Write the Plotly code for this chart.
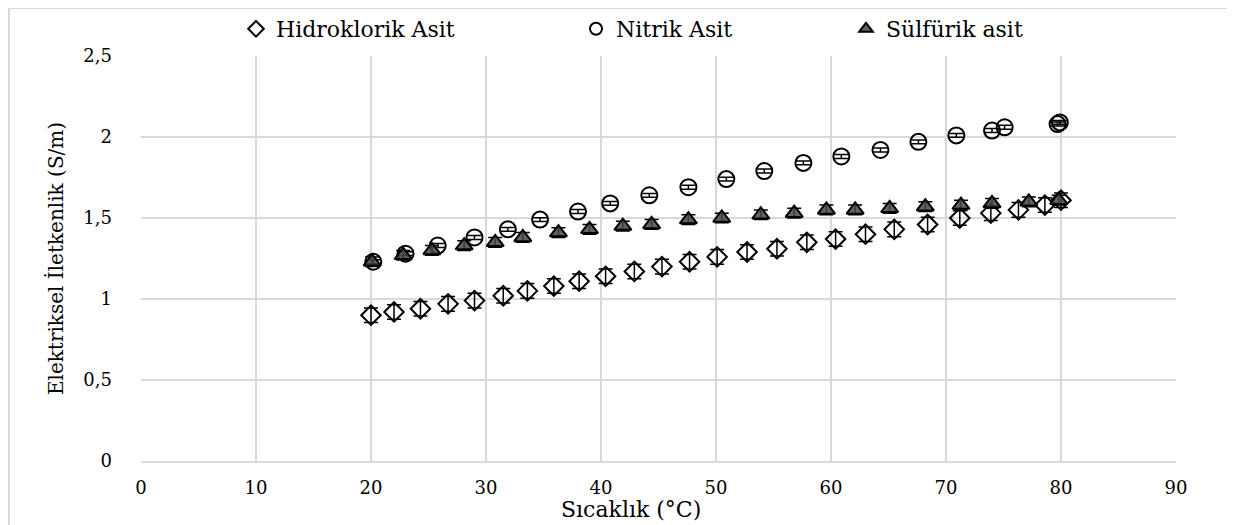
import plotly.graph_objects as go

# ---- data ----
hcl_x = [20.0, 22.0, 24.3, 26.7, 29.0, 31.5, 33.6, 35.9, 38.1, 40.4, 42.9, 45.3, 47.7,
         50.1, 52.7, 55.3, 57.9, 60.4, 63.0, 65.5, 68.4, 71.2, 73.9, 76.3, 78.6, 80.0]
hcl_y = [0.90, 0.92, 0.94, 0.97, 0.99, 1.02, 1.05, 1.08, 1.11, 1.14, 1.17, 1.20, 1.23,
         1.26, 1.29, 1.31, 1.35, 1.37, 1.40, 1.43, 1.46, 1.50, 1.53, 1.55, 1.58, 1.61]
hcl_err = [0.045] * len(hcl_x)

hno3_x = [20.2, 23.0, 25.8, 29.0, 31.9, 34.7, 38.0, 40.8, 44.2, 47.6, 50.9, 54.2, 57.6,
          60.9, 64.3, 67.6, 70.9, 74.0, 75.1, 79.7, 79.9]
hno3_y = [1.23, 1.28, 1.33, 1.38, 1.43, 1.49, 1.54, 1.59, 1.64, 1.69, 1.74, 1.79, 1.84,
          1.88, 1.92, 1.97, 2.01, 2.04, 2.06, 2.08, 2.09]
hno3_err = [0.012] * len(hno3_x)

h2so4_x = [20.1, 22.8, 25.3, 28.1, 30.8, 33.2, 36.3, 39.0, 41.9, 44.4, 47.6, 50.5, 53.9,
           56.8, 59.6, 62.1, 65.1, 68.2, 71.3, 74.0, 77.2, 79.8]
h2so4_y = [1.23, 1.27, 1.30, 1.33, 1.35, 1.38, 1.41, 1.43, 1.45, 1.46, 1.49, 1.50, 1.52,
           1.53, 1.55, 1.55, 1.56, 1.57, 1.58, 1.59, 1.60, 1.61]
h2so4_err = [0.03] * len(h2so4_x)

names = ["Hidroklorik Asit", "Nitrik Asit", "Sülfürik asit"]
x_title = "Sıcaklık (°C)"
y_title = "Elektriksel İletkenlik (S/m)"
x_ticks = [0, 10, 20, 30, 40, 50, 60, 70, 80, 90]
y_ticks = [0, 0.5, 1, 1.5, 2, 2.5]

FONT = "DejaVu Serif, Liberation Serif, serif"
GRID = "#d9d9d9"

fig = go.Figure()

def err(vals):
    return dict(type="data", array=vals, visible=True, color="black",
                thickness=1.5, width=7)

fig.add_trace(go.Scatter(
    x=hcl_x, y=hcl_y, mode="markers", name=names[0], legend="legend",
    error_y=err(hcl_err),
    marker=dict(symbol="diamond", size=15, color="rgba(255,255,255,0)",
                line=dict(color="black", width=2))))
fig.add_trace(go.Scatter(
    x=hno3_x, y=hno3_y, mode="markers", name=names[1], legend="legend2",
    error_y=err(hno3_err),
    marker=dict(symbol="circle", size=16, color="rgba(255,255,255,0)",
                line=dict(color="black", width=2))))
fig.add_trace(go.Scatter(
    x=h2so4_x, y=h2so4_y, mode="markers", name=names[2], legend="legend3",
    error_y=err(h2so4_err),
    marker=dict(symbol="triangle-up", size=15, color="rgba(70,70,70,0.85)",
                line=dict(color="black", width=2))))

# page body has an 8px margin; window coordinates -> figure coordinates
OFF = 8
W, H = 1235 - OFF, 525 - OFF
PL, PR, PT, PB = 141, 1176, 56, 461   # plot area in window pixels
L, T = PL - OFF, PT - OFF
R, B = W - (PR - OFF), H - (PB - OFF)
pw, ph = PR - PL, PB - PT

def px_x(p):
    return (p - PL) / pw

def px_y(p):
    return (PB - p) / ph

leg_common = dict(orientation="h", yanchor="middle", xanchor="left",
                  font=dict(family=FONT, size=22, color="black"),
                  bgcolor="rgba(0,0,0,0)", itemsizing="constant")

fig.update_layout(
    width=W, height=H,
    margin=dict(l=L, r=R, t=T, b=B, autoexpand=False),
    paper_bgcolor="white", plot_bgcolor="white",
    separators=", ",
    font=dict(family=FONT, size=18, color="black"),
    legend=dict(x=px_x(236), y=px_y(29), **leg_common),
    legend2=dict(x=px_x(576), y=px_y(29), **leg_common),
    legend3=dict(x=px_x(846), y=px_y(29), **leg_common),
    xaxis=dict(range=[0, 90], tickvals=x_ticks, showgrid=True, gridcolor=GRID,
               gridwidth=2, zeroline=False, showline=True, linecolor=GRID,
               linewidth=2, ticks="", ticklabelstandoff=9, automargin=False,
               tickfont=dict(family=FONT, size=18, color="black")),
    yaxis=dict(range=[0, 2.5], tickvals=y_ticks, showgrid=True, gridcolor=GRID,
               gridwidth=2, zeroline=False, showline=False, ticks="",
               ticklabelstandoff=28, automargin=False,
               tickfont=dict(family=FONT, size=18, color="black"),
               title=dict(text=y_title, standoff=14,
                          font=dict(family=FONT, size=20, color="black"))),
    annotations=[dict(text=x_title, xref="paper", yref="paper",
                      x=px_x(631), y=px_y(509), xanchor="center", yanchor="middle",
                      showarrow=False,
                      font=dict(family=FONT, size=22, color="black"))],
    shapes=[dict(type="rect", xref="paper", yref="paper",
                 x0=px_x(9), x1=px_x(1231), y0=px_y(560), y1=px_y(8),
                 line=dict(color=GRID, width=2), fillcolor="rgba(0,0,0,0)",
                 layer="below")],
    showlegend=True,
)

fig.write_html("out.html")
